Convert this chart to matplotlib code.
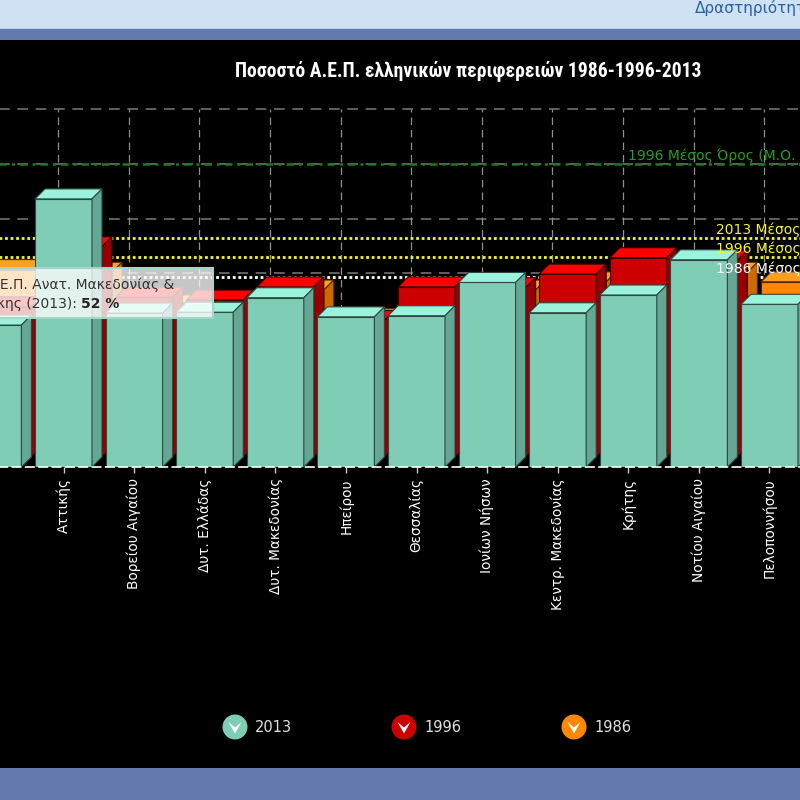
import matplotlib
matplotlib.use("Agg")
import matplotlib.pyplot as plt
from matplotlib.patches import Polygon, Rectangle, Circle
from matplotlib import font_manager as fm
import numpy as np

# ---------------- data ----------------
regions = ["Ανατ. Μακεδονίας & Θράκης", "Αττικής", "Βορείου Αιγαίου", "Δυτ. Ελλάδας",
           "Δυτ. Μακεδονίας", "Ηπείρου", "Θεσσαλίας", "Ιονίων Νήσων",
           "Κεντρ. Μακεδονίας", "Κρήτης", "Νοτίου Αιγαίου", "Πελοποννήσου",
           "Στερεάς Ελλάδας"]
v2013 = [52, 98.2, 56.4, 56.7, 62, 55, 55.4, 67.6, 56.5, 63, 75.9, 59.6, 62]
v1996 = [55, 77, 58.5, 57.5, 62.3, 50, 62.3, 62, 67, 73, 72, 54, 66]
v1986 = [65, 64, 52, 50, 57.5, 47, 52, 57.5, 60.5, 60, 64, 60.5, 60]
series_names = ["2013", "1996", "1986"]
mean_names = ["2013 Μέσος Όρος Ελλάδας", "1996 Μέσος Όρος Ελλάδας", "1986 Μέσος Όρος Ελλάδας"]
mean_values = [72.8, 65.8, 58.5]
eu_name = "1996 Μέσος Όρος (Μ.Ο. Ε.Ε. = 100)"
eu_value = 100
yticks = [0, 20, 40, 60, 80, 100, 120]
title = "Ποσοστό Α.Ε.Π. ελληνικών περιφερειών 1986-1996-2013"

# ---------------- styling ----------------
front = ["#7fcdb4", "#cc0000", "#ff8800"]
topc = ["#9af3da", "#ff0000", "#ffa020"]
sidec = ["#64a795", "#960000", "#cc6a00"]
edgec = ["#2c4a42", "#330000", "#552800"]

W = H = 800
fig = plt.figure(figsize=(8, 8), dpi=100, facecolor="black")

STEP = 70.6   # px per category
PPU = 2.73    # px per value unit
C1 = 63.5     # px centre of category 1
BASE = 467    # px baseline (from top)
XL = (-1.5, 13.5)
YL = (0, 140)
left_px = C1 + (XL[0] - 1) * STEP
ax = fig.add_axes([left_px / W, (H - BASE) / H, (XL[1] - XL[0]) * STEP / W,
                   (YL[1] - YL[0]) * PPU / H])
ax.set_xlim(XL)
ax.set_ylim(YL)
ax.set_facecolor("none")

DX = 10 / STEP
DY = 10 / PPU
BW = 57 / STEP
BX, BY = 3 * DX, 3 * DY
n = len(regions)
xs = np.arange(n)

# back wall grid
for g in yticks:
    ax.plot([-0.5 + BX, n - 0.5 + BX], [g + BY, g + BY], color="#7a7a7a", lw=1.1,
            ls=(0, (7, 5)), zorder=1)
for b in np.arange(-0.5, n, 1.0):
    ax.plot([b + BX, b + BX], [BY, yticks[-1] + BY], color="#8f8f8f", lw=0.9,
            ls=(0, (6, 4)), zorder=1)

# trend lines (back wall)
ax.plot([-0.5 + BX, n - 0.5 + BX], [eu_value + BY] * 2, color="#1d7a1d", lw=1.8,
        ls=(0, (3, 2, 1.2, 2)), zorder=1.5)
mean_cols = ["#f5f52a", "#f5f52a", "#ffffff"]
for mv, mc in zip(mean_values, mean_cols):
    ax.plot([-0.5 + BX, n - 0.5 + BX], [mv + BY] * 2, color=mc, lw=2.0,
            ls=(0, (1, 1)), zorder=1.5)

def px2x(px):
    return (px - left_px) / STEP + XL[0]

ax.text(px2x(628), eu_value + BY + 8.5 / PPU, eu_name, color="#22a022", fontsize=10,
        va="center", ha="left", zorder=20)
for mname, mv, mc in zip(mean_names, mean_values, mean_cols):
    ax.text(px2x(716), mv + BY + 9 / PPU, mname, color=mc, fontsize=10,
            va="center", ha="left", zorder=20)

# 3D bars, back to front
all_vals = [v2013, v1996, v1986]
for k in [2, 1, 0]:
    vals = np.array(all_vals[k], dtype=float)
    z = 5 - k
    x0 = xs - BW / 2 + k * DX
    y0 = k * DY
    ax.bar(x0, vals, width=BW, bottom=y0, align="edge", color=front[k],
           edgecolor=edgec[k], lw=0.8, zorder=z)
    for xa, v in zip(x0, vals):
        x1 = xa + BW
        y1 = y0 + v
        ax.add_patch(Polygon([(xa, y1), (x1, y1), (x1 + DX, y1 + DY), (xa + DX, y1 + DY)],
                             closed=True, facecolor=topc[k], edgecolor=edgec[k],
                             lw=0.8, zorder=z))
        ax.add_patch(Polygon([(x1, y0), (x1 + DX, y0 + DY), (x1 + DX, y1 + DY), (x1, y1)],
                             closed=True, facecolor=sidec[k], edgecolor=edgec[k],
                             lw=0.8, zorder=z))

# axes / ticks
for s in ["top", "left", "right"]:
    ax.spines[s].set_visible(False)
ax.spines["bottom"].set_color("#ffffff")
ax.spines["bottom"].set_linestyle((0, (5, 3)))
ax.spines["bottom"].set_linewidth(1.2)
ax.spines["bottom"].set_zorder(12)
ax.set_yticks([])
ax.set_xticks(xs)
ax.set_xticklabels(regions, rotation=90, color="white", fontsize=9.8)
ax.tick_params(axis="x", colors="#cccccc", length=4.3, width=1, pad=3.8,
               labelcolor="white")

# ---------------- overlay ----------------
ov = fig.add_axes([0, 0, 1, 1], zorder=10)
ov.set_xlim(0, W)
ov.set_ylim(H, 0)
ov.axis("off")
ov.set_facecolor("none")
ov.add_patch(Rectangle((0, 0), W, 27.5, color="#cfe2f3", lw=0))
ov.add_patch(Rectangle((0, 27.5), W, 1.5, color="#b3c9e3", lw=0))
ov.add_patch(Rectangle((0, 29), W, 10.5, color="#647aae", lw=0))
ov.add_patch(Rectangle((0, 768), W, 32, color="#647aae", lw=0))
ov.text(695, 7.5, "Δραστηριότητες", color="#2a5fa5", fontsize=11, ha="left", va="center")

def pick(fams, **kw):
    for f in fams:
        try:
            fm.findfont(fm.FontProperties(family=f, **kw), fallback_to_default=False)
            return f
        except Exception:
            pass
    return None

tf = pick(["Liberation Sans Narrow", "Roboto Condensed", "Open Sans Condensed"], weight="bold")
if tf:
    t = ov.text(468, 71, title, color="white", fontsize=11, fontweight="bold",
                family=tf, ha="center", va="center")
else:
    t = ov.text(468, 71, title, color="white", fontsize=11, fontweight="bold",
                fontstretch="condensed", ha="center", va="center")
fig.canvas.draw()
r = fig.canvas.get_renderer()
bb = t.get_window_extent(r)
t.set_fontsize(t.get_fontsize() * 464 / bb.width)

# legend
leg_x = [235, 404, 574]
for cx, name, col in zip(leg_x, series_names, front):
    ov.add_patch(Circle((cx, 727), 12.5, color=col, lw=0))
    ov.add_patch(Polygon([(cx - 6.5, 722), (cx, 733.5), (cx + 6.5, 722), (cx, 727.5)],
                         closed=True, color="white", lw=0))
    ov.text(cx + 20, 727, name, color="#e0e0e0", fontsize=10.5, ha="left", va="center")

# tooltip
ov.add_patch(Rectangle((-10, 268), 223, 50, facecolor=(1, 1, 1, 0.78),
                       edgecolor="#a3d6c6", lw=1.5, zorder=30))
ov.text(174, 285, "Ποσοστό Α.Ε.Π. " + regions[0].replace(" Θράκης", ""), color="#333333",
        fontsize=10, ha="right", va="center", zorder=31)
ov.text(77, 304, "Θράκης (2013):", color="#333333", fontsize=10, ha="right",
        va="center", zorder=31)
ov.text(81, 304, f"{v2013[0]:.0f} %", color="#222222", fontsize=10, fontweight="bold",
        ha="left", va="center", zorder=31)

fig.savefig("out.png", dpi=100, facecolor="black")
